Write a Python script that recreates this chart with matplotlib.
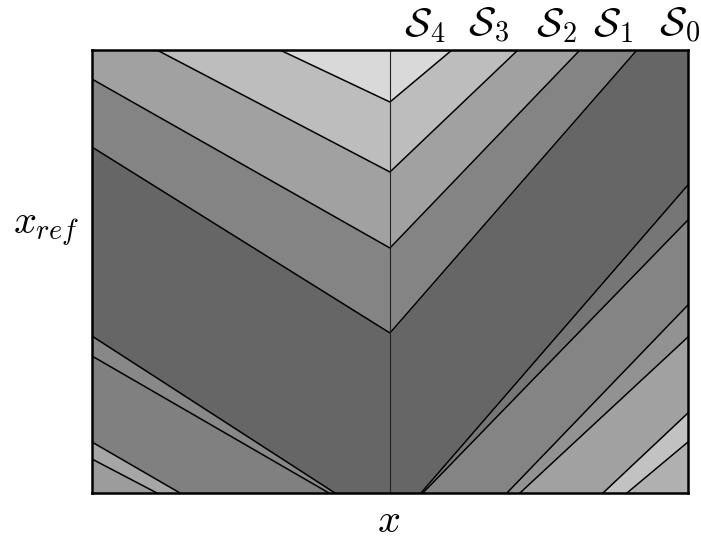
import numpy as np
import matplotlib.pyplot as plt

plt.rcParams['mathtext.fontset'] = 'cm'

# region boundaries as polylines (x, x_ref), x in [-1, 1], x_ref in [0, 1]
# upper V-shaped boundaries, apex on x = 0
u1_x = [-0.369, 0.0, 0.208]
u1_y = [1.0, 0.8826, 1.0]
u2_x = [-0.782, 0.0, 0.4295]
u2_y = [1.0, 0.7246, 1.0]
u3_x = [-1.0, 0.0, 0.6376]
u3_y = [0.9345, 0.5530, 1.0]
u4_x = [-1.0, 0.0, 0.8289]
u4_y = [0.7810, 0.3612, 1.0]

# lower-left boundaries
l1_x = [-1.0, -0.1846]
l1_y = [0.3544, 0.0]
l2_x = [-1.0, -0.2047]
l2_y = [0.3093, 0.0]
l3_x = [-1.0, -0.7047]
l3_y = [0.1151, 0.0]
l4_x = [-1.0, -0.7819]
l4_y = [0.0767, 0.0]

# lower-right boundaries
ra_x = [0.104, 1.0]
ra_y = [0.0, 0.6953]
rb_x = [0.1107, 1.0]
rb_y = [0.0, 0.6163]
rc_x = [0.3926, 1.0]
rc_y = [0.0, 0.4244]
rd_x = [0.4362, 1.0]
rd_y = [0.0, 0.3521]
re_x = [0.7148, 1.0]
re_y = [0.0, 0.1806]
rf_x = [0.7953, 1.0]
rf_y = [0.0, 0.1151]

labels = [r'$\mathcal{S}_4$', r'$\mathcal{S}_3$', r'$\mathcal{S}_2$',
          r'$\mathcal{S}_1$', r'$\mathcal{S}_0$']

bounds = [(u1_x, u1_y), (u2_x, u2_y), (u3_x, u3_y), (u4_x, u4_y),
          (l1_x, l1_y), (l2_x, l2_y), (l3_x, l3_y), (l4_x, l4_y),
          (ra_x, ra_y), (rb_x, rb_y), (rc_x, rc_y), (rd_x, rd_y),
          (re_x, re_y), (rf_x, rf_y)]

xs = np.linspace(-1, 1, 4001)
for bx, by in bounds:
    xs = np.union1d(xs, bx)


def curve(bx, by):
    return np.interp(xs, bx, by)


U1, U2, U3, U4 = [curve(*b) for b in bounds[:4]]
L1, L2, L3, L4 = [curve(*b) for b in bounds[4:8]]
RA, RB, RC, RD, RE, RF = [curve(*b) for b in bounds[8:]]
top = np.ones_like(xs)
zero = np.zeros_like(xs)

fig = plt.figure(figsize=(7.01, 5.42), dpi=100)
ax = fig.add_axes([0.1312, 0.0904, 0.8502, 0.8173])

bands = [
    (U1, top, '#d9d9d9'),
    (U2, U1, '#bdbdbd'),
    (U3, U2, '#a1a1a1'),
    (U4, U3, '#848484'),
    (np.maximum(L1, RA), U4, '#666666'),
    (L2, L1, '#888888'),
    (L3, L2, '#808080'),
    (L4, L3, '#a6a6a6'),
    (zero, L4, '#9c9c9c'),
    (RB, RA, '#767676'),
    (RC, RB, '#848484'),
    (RD, RC, '#929292'),
    (RE, RD, '#a1a1a1'),
    (RF, RE, '#c2c2c2'),
    (zero, RF, '#b0b0b0'),
]
for lo, hi, c in bands:
    ax.fill_between(xs, lo, hi, where=hi > lo, color=c, lw=0)

for bx, by in bounds:
    ax.plot(bx, by, color='black', lw=1.1)
ax.axvline(0, color='#222222', lw=0.8)

ax.set_xlim(-1, 1)
ax.set_ylim(0, 1)
ax.set_xticks([])
ax.set_yticks([])
for s in ax.spines.values():
    s.set_linewidth(1.8)

# region names along the top edge
label_x = [0.117, 0.332, 0.557, 0.748, 0.973]
for lx, lab in zip(label_x, labels):
    ax.text(lx, 1.012, lab, ha='center', va='bottom', fontsize=29)

fig.text(0.555, 0.038, r'$x$', ha='center', va='center', fontsize=29)
fig.text(0.066, 0.578, r'$x_{ref}$', ha='center', va='center', fontsize=29)

fig.savefig('out.png', dpi=100)
